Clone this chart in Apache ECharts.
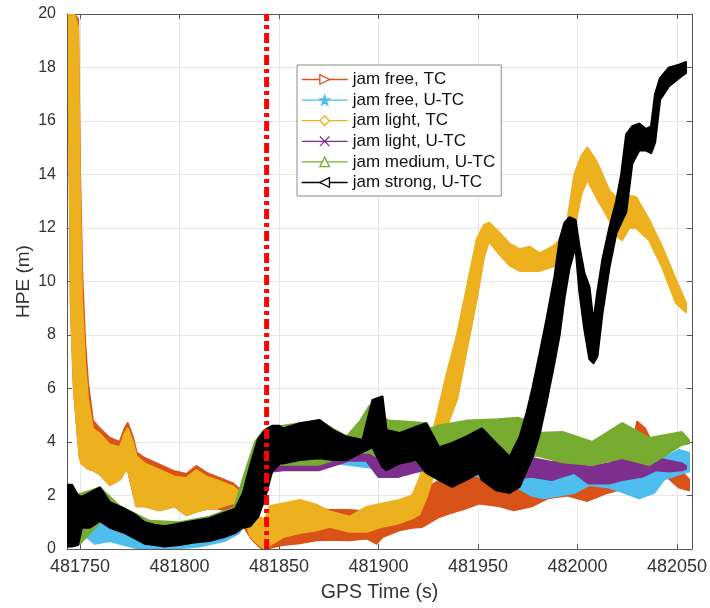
<!DOCTYPE html>
<html><head><meta charset="utf-8">
<script src="https://cdn.jsdelivr.net/npm/echarts@6/dist/echarts.min.js"></script>
<style>html,body{margin:0;padding:0;background:#fff}#c{width:710px;height:608px}</style>
</head><body><div id="c"></div>
<script>
// ---- names ----
const seriesNames = ['jam free, TC','jam free, U-TC','jam light, TC','jam light, U-TC','jam medium, U-TC','jam strong, U-TC'];

// ---- tick labels ----
const xTicks = [481750, 481800, 481850, 481900, 481950, 482000, 482050];
const yTicks = [0, 2, 4, 6, 8, 10, 12, 14, 16, 18, 20];

// ---- jamming start marker (GPS time, s) ----
const jamStartTime = 481843.8;

// ---- jam free, TC : band envelope (time, lower HPE, upper HPE) ----
const freeTC_t  = [481744.5,481745.5,481747,481749,481750,481751,481752.5,481754,481756.5,481760,481765,481770,481772.5,481774,481776.5,481778.5,481782.5,481790,481797.5,481803.5,481808.5,481813.5,481818.5,481827,481832,481836,481840,481842,481845.5,481852,481860.5,481869,481875.5,481885.5,481894,481899,481902,481910.5,481917,481922,481930.5,481935.5,481943,481950.5,481961,481968,481977,481985,481995,482005,482015,482025,482030,482034,482038.5,482043.5,482051,482056];
const freeTC_lo = [17,9,6,4.2,3.4,3.2,3.1,3.0,2.95,2.8,2.4,2.6,2.9,3.0,2.2,1.6,1.6,1.45,1.6,1.27,1.4,1.5,1.53,1.4,0.9,0.4,0.1,0.0,0.05,0.15,0.22,0.33,0.35,0.33,0.4,0.2,0.45,0.7,0.8,0.83,1.2,1.33,1.5,1.7,1.6,1.45,1.6,1.9,2.0,1.8,2.1,2.3,3.3,3.2,3.2,2.8,2.3,2.2];
const freeTC_hi = [20,20,20,19.8,14,10.5,7.8,6.2,4.8,4.5,4.15,4.0,4.5,4.7,4.2,3.6,3.4,3.15,2.9,2.8,3.1,2.85,2.7,2.45,2.1,1.6,1.1,0.9,1.0,1.4,1.5,1.5,1.45,1.45,1.4,1.45,1.5,1.7,2.0,2.2,2.55,2.7,2.75,2.95,2.85,2.7,2.8,2.9,2.8,2.6,2.8,2.9,4.75,4.5,3.8,3.6,3.0,2.6];

// ---- jam free, U-TC ----
const freeUTC_t  = [481744,481750,481752.5,481757.5,481765,481772.5,481777.5,481785,481795,481810,481822.5,481830,481834.5,481838,481841.5,481848,481860,481880,481900,481920,481945,481965,481977,481983,481991,481998.5,482006,482016,482023.5,482031,482038.5,482043.5,482051,482056];
const freeUTC_lo = [0.1,0.3,0.5,0.2,0.3,0.15,0.05,0.0,0.0,0.1,0.3,0.6,1.3,2.3,3.0,3.4,3.3,3.2,3.0,2.9,2.8,2.5,2.0,1.9,2.0,2.1,2.4,2.3,2.1,1.9,2.1,2.6,2.8,2.9];
const freeUTC_hi = [1.5,1.6,1.5,1.1,1.0,0.9,0.7,0.5,0.5,0.7,1.0,1.6,3.0,3.8,4.2,4.4,4.3,4.0,3.5,3.4,3.2,3.0,3.0,2.8,2.9,2.8,3.0,3.0,2.6,2.6,2.9,3.4,3.7,3.6];

// ---- jam light, TC ----
const lightTC_t  = [481744.5,481745.5,481747,481749,481750,481751,481752.5,481754,481756.5,481760,481765,481770,481772.5,481774,481776.5,481778.5,481782.5,481790,481797.5,481803.5,481808.5,481813.5,481818.5,481827,481832,481835.5,481839.5,481843,481845.5,481852,481860.5,481869,481875.5,481885.5,481894,481902,481910.5,481917,481920.5,481924.5,481929.5,481934.5,481939.5,481944.5,481949.5,481953,481955.5,481961,481966,481971,481976,481981,481987.5,481992.5,481995,481998.5,482002,482005,482009.5,482016,482020,482022.5,482026,482029.5,482036,482042.5,482049.5,482054.5];
const lightTC_lo = [17,9,6,4.2,3.4,3.2,3.1,3.0,2.95,2.8,2.4,2.6,2.9,3.0,2.2,1.6,1.6,1.45,1.6,1.27,1.4,1.5,1.53,1.72,1.5,0.5,0.2,0.0,0.15,0.45,0.6,0.7,0.83,0.65,0.65,0.83,0.97,1.15,1.3,2.0,3.2,4.6,5.6,7.5,9.4,10.9,11.5,11.0,10.6,10.4,10.4,10.4,10.55,10.8,11.0,12.0,13.3,13.8,13.15,12.3,11.7,11.55,12.0,12.0,11.55,10.55,9.2,8.85];
const lightTC_hi = [20,20,20,19.5,13,9.3,7.0,5.6,4.5,4.3,3.9,3.8,4.3,4.5,4.0,3.45,3.2,2.95,2.7,2.65,2.95,2.7,2.58,2.33,2.0,1.5,1.2,1.1,1.6,1.7,1.83,1.65,1.4,1.2,1.57,1.7,1.83,2.0,2.6,3.6,5.0,6.6,8.0,9.8,11.6,12.1,12.2,11.8,11.4,11.2,11.3,11.05,11.3,11.65,12.3,14.0,14.7,15.0,14.5,13.4,13.1,13.05,13.2,13.15,12.3,11.3,10.05,9.2];

// ---- jam light, U-TC ----
const lightUTC_t  = [481744,481750,481760,481770,481785,481800,481815,481827.5,481834,481838,481842,481847,481852,481870,481885,481894,481900,481910,481922,481932,481945,481960,481977,481987,481998.5,482005.5,482016,482022.5,482032.5,482039.5,482046,482052.5,482054.5];
const lightUTC_lo = [0.2,0.3,1.1,0.7,0.25,0.2,0.35,0.6,1.0,1.8,2.4,2.9,2.95,2.95,3.3,3.3,2.7,2.7,2.95,2.7,2.9,2.6,2.7,2.58,2.85,2.45,2.45,2.58,2.7,2.95,2.9,2.95,3.0];
const lightUTC_hi = [2.0,1.9,2.1,1.4,1.0,0.9,1.1,1.4,2.9,3.8,4.2,4.3,4.3,4.5,4.1,4.0,3.9,4.0,4.2,3.9,4.0,3.5,3.4,3.25,3.45,3.07,3.2,3.45,3.25,3.4,3.3,3.2,3.1];

// ---- jam medium, U-TC ----
const mediumUTC_t  = [481744,481750,481760,481770,481785,481800,481815,481827.5,481834,481838,481842,481847,481852,481870,481884,481891,481895.5,481901,481905,481915,481924,481926,481930,481945,481960,481970,481977,481979.5,481992.5,482007.5,482022.5,482036,482052.5,482056];
const mediumUTC_lo = [0.1,0.2,1.0,0.8,0.2,0.2,0.35,0.6,1.1,1.9,2.6,3.15,3.15,3.15,3.5,3.6,3.6,3.4,3.3,3.3,3.3,3.3,3.3,3.2,3.3,3.4,3.45,3.5,3.25,3.14,3.4,3.14,3.9,3.95];
const mediumUTC_hi = [2.1,2.05,2.3,1.6,1.05,1.0,1.2,1.55,3.1,4.0,4.4,4.55,4.6,4.8,4.2,4.8,5.35,5.0,4.8,4.75,4.7,4.5,4.6,4.8,4.85,4.9,4.75,4.33,4.37,4.0,4.7,4.15,4.37,4.07];

// ---- jam strong, U-TC ----
const strongUTC_t  = [481743.5,481746,481749,481751,481755,481760,481765,481772.5,481777.5,481782.5,481787.5,481792.5,481800,481807.5,481815,481822.5,481828,481832,481835.5,481839.5,481843,481846.5,481850.5,481852,481860.5,481870.5,481877,481884,481892,481897,481902,481904,481910.5,481919,481924,481930.5,481937,481944,481950.5,481952,481959,481966,481971,481974.5,481977.5,481981,481984.5,481988.5,481991,481993.5,481996,481999,482001,482003.5,482006,482008,482010,482012.5,482016,482019.5,482022,482024.5,482027.5,482031,482034.5,482037,482039,482041.5,482046,482051,482054.5];
const strongUTC_lo = [0.1,0.1,0.15,0.8,0.8,1.05,0.8,0.6,0.4,0.2,0.15,0.1,0.15,0.25,0.3,0.45,0.6,0.8,0.85,1.2,1.9,2.9,3.2,3.2,3.33,3.4,3.33,3.33,3.63,3.8,3.07,2.95,3.2,3.33,2.85,2.58,2.33,2.58,2.85,2.58,2.2,2.1,2.33,2.95,3.45,4.3,5.5,7.0,8.0,9.4,10.5,11.3,9.6,8.2,7.1,6.95,7.2,8.8,10.5,11.8,12.2,12.6,14.4,14.9,14.9,14.8,15.2,16.8,17.3,17.6,17.8];
const strongUTC_hi = [2.4,2.4,2.0,1.95,2.1,2.3,1.75,1.5,1.3,1.0,0.9,0.85,0.95,1.05,1.15,1.35,1.5,2.1,3.1,4.1,4.45,4.6,4.6,4.5,4.7,4.82,4.45,4.2,4.07,5.57,5.7,4.45,4.33,4.57,4.7,3.8,3.96,4.2,4.45,4.5,3.96,3.45,4.2,5.1,6.05,7.3,8.6,10.2,11.55,12.2,12.4,12.3,11.3,10.3,9.8,8.5,9.6,10.8,12.0,13.0,14.0,15.5,15.8,15.9,15.7,15.8,17.0,17.6,18.0,18.1,18.2];

// ---- styling ----
const colors = ['#D95319','#4DBEEE','#EDB120','#7E2F8E','#77AC30','#000000'];
const markers = [
  'path://M0,0L10,5L0,10Z',
  'path://M5,0L6.2,3.6L10,3.6L6.9,5.9L8.1,9.5L5,7.3L1.9,9.5L3.1,5.9L0,3.6L3.8,3.6Z',
  'path://M5,0L10,5L5,10L0,5Z',
  'path://M1,1L9,9M9,1L1,9',
  'path://M5,0L10,10L0,10Z',
  'path://M10,0L0,5L10,10Z'
];
const markerFill = ['#fff', '#4DBEEE', '#fff', '#fff', '#fff', '#fff'];
const bands = [
  [freeTC_t, freeTC_lo, freeTC_hi],
  [freeUTC_t, freeUTC_lo, freeUTC_hi],
  [lightTC_t, lightTC_lo, lightTC_hi],
  [lightUTC_t, lightUTC_lo, lightUTC_hi],
  [mediumUTC_t, mediumUTC_lo, mediumUTC_hi],
  [strongUTC_t, strongUTC_lo, strongUTC_hi]
];

const FONT = 'Liberation Sans, Arial, Helvetica, sans-serif';
const XMIN = 481743.5, XMAX = 482057.5;

function bandSeries(k) {
  const [t, lo, hi] = bands[k];
  const data = t.map((x, i) => [x, lo[i], hi[i]]);
  const color = colors[k];
  return {
    type: 'custom',
    name: '_band' + k,
    data: data,
    encode: { x: 0, y: [1, 2] },
    silent: true,
    z: 2 + k * 0.01,
    clip: true,
    renderItem: function (params, api) {
      if (params.dataIndex !== 0) return null;
      const up = data.map(d => api.coord([d[0], d[2]]));
      const dn = data.map(d => api.coord([d[0], d[1]])).reverse();
      return {
        type: 'polygon',
        shape: { points: up.concat(dn) },
        style: { fill: color, stroke: color, lineWidth: 2.2, lineJoin: 'round' }
      };
    }
  };
}

const series = [];
for (let k = 0; k < 6; k++) series.push(bandSeries(k));
// legend carriers
for (let k = 0; k < 6; k++) {
  series.push({
    type: 'line', name: seriesNames[k], data: [],
    symbol: markers[k], symbolSize: 9,
    lineStyle: { color: colors[k], width: 1.3 },
    itemStyle: { color: markerFill[k], borderColor: colors[k], borderWidth: 1.3 }
  });
}
// jamming-start marker line
series.push({
  type: 'line', name: '_jam', data: [[jamStartTime, 0], [jamStartTime, 20]],
  symbol: 'none', silent: true, z: 5,
  lineStyle: { color: '#FF0000', width: 5, type: [10, 4, 4, 4] }
});

const axisColor = '#555';
const gridColor = '#e6e6e6';

const option = {
  animation: false,
  backgroundColor: '#fff',
  grid: { left: 67, top: 14, width: 626, height: 535, containLabel: false },
  legend: {
    show: true,
    orient: 'vertical',
    left: 297, top: 65,
    padding: [6, 6, 5, 4],
    itemWidth: 46, itemHeight: 12, itemGap: 3.6,
    backgroundColor: '#fff',
    borderColor: '#8c8c8c', borderWidth: 1,
    textStyle: { fontSize: 17, color: '#111', fontFamily: FONT },
    data: seriesNames.map((n, k) => ({
      name: n,
      itemStyle: { color: markerFill[k], borderColor: colors[k], borderWidth: 1.3 },
      lineStyle: { color: colors[k], width: 1.3 }
    })),
    selectedMode: false
  },
  xAxis: [{
    type: 'value', min: XMIN, max: XMAX, splitNumber: 6,
    axisLine: { show: true, onZero: false, lineStyle: { color: axisColor, width: 1 } },
    axisTick: { show: true, inside: true, length: 5, lineStyle: { color: axisColor } },
    splitLine: { show: true, lineStyle: { color: gridColor, width: 1 } },
    axisLabel: {
      color: '#333', fontSize: 18, fontFamily: FONT, margin: 9,
      showMinLabel: false, showMaxLabel: false,
      formatter: v => (xTicks.indexOf(Math.round(v)) >= 0 && Math.abs(v - Math.round(v)) < 1e-6) ? String(Math.round(v)) : ''
    },
    name: 'GPS Time (s)', nameLocation: 'middle', nameGap: 34, nameMoveOverlap: false,
    nameTextStyle: { fontSize: 19.5, color: '#333', fontFamily: FONT }
  }, {
    type: 'value', min: XMIN, max: XMAX, splitNumber: 6, position: 'top',
    axisLine: { show: true, onZero: false, lineStyle: { color: axisColor, width: 1 } },
    axisTick: { show: true, inside: true, length: 5, lineStyle: { color: axisColor } },
    splitLine: { show: false }, axisLabel: { show: false }
  }],
  yAxis: [{
    type: 'value', min: 0, max: 20, interval: 2,
    axisLine: { show: true, onZero: false, lineStyle: { color: axisColor, width: 1 } },
    axisTick: { show: true, inside: true, length: 5, lineStyle: { color: axisColor } },
    splitLine: { show: true, lineStyle: { color: gridColor, width: 1 } },
    axisLabel: {
      color: '#333', fontSize: 16, fontFamily: FONT, margin: 11,
      formatter: v => (yTicks.indexOf(v) >= 0 ? String(v) : '')
    },
    name: 'HPE (m)', nameLocation: 'middle', nameGap: 34, nameMoveOverlap: false,
    nameTextStyle: { fontSize: 19, color: '#333', fontFamily: FONT }
  }, {
    type: 'value', min: 0, max: 20, interval: 2, position: 'right',
    axisLine: { show: true, onZero: false, lineStyle: { color: axisColor, width: 1 } },
    axisTick: { show: true, inside: true, length: 5, lineStyle: { color: axisColor } },
    splitLine: { show: false }, axisLabel: { show: false }
  }],
  series: series
};

const chart = echarts.init(document.getElementById('c'), null, { renderer: 'canvas' });
chart.setOption(option);
</script>
</body></html>
